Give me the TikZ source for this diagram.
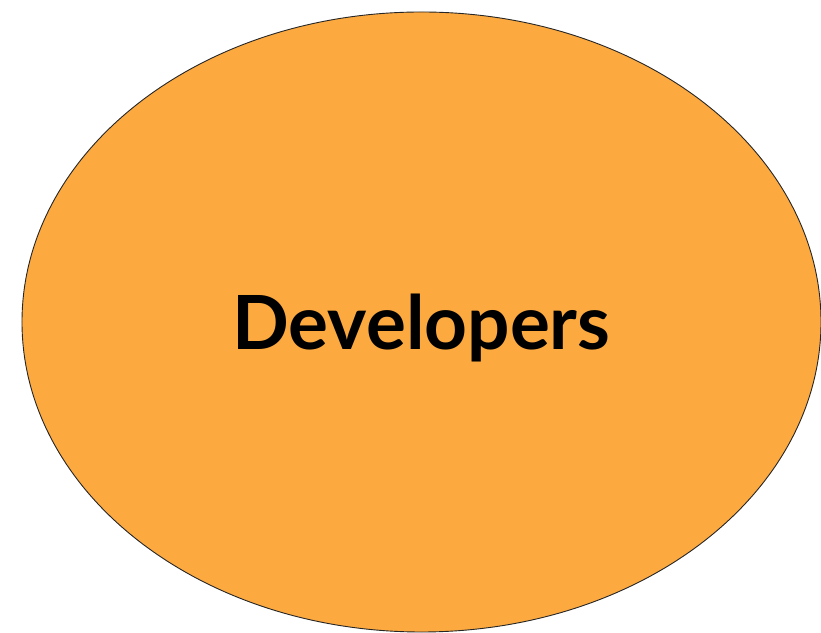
\documentclass[tikz,border=0pt]{standalone}
\usepackage{fontspec}
\setmainfont{Lato}
\usepackage{tikz}
\usetikzlibrary{shapes, positioning}
\definecolor{devorange}{RGB}{252,169,64}

\begin{document}
\begin{tikzpicture}[
    x=1bp, y=1bp,
    group/.style={draw=black!85, fill=devorange, ellipse, inner sep=0pt, minimum width=799bp, minimum height=620bp, line width=0.9bp, text height=56bp, text depth=0pt, font=\fontsize{75}{80}\selectfont\bfseries}
]
\useasboundingbox (0,0) rectangle (821,633);
\node[group] (developers) at (421.5,311) {Developers};
\end{tikzpicture}
\end{document}
